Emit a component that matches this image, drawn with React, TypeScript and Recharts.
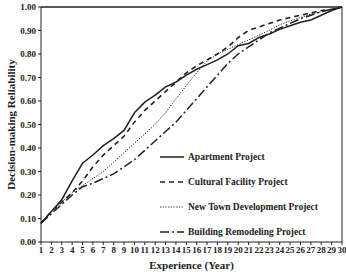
import {
  LineChart,
  Line,
  XAxis,
  YAxis,
  ReferenceLine
} from 'recharts';

const years = Array.from({ length: 30 }, (_, i) => i + 1);

const apartment = [
  0.08, 0.13, 0.18, 0.26, 0.335, 0.37, 0.41, 0.44, 0.475, 0.55,
  0.595, 0.625, 0.66, 0.68, 0.71, 0.735, 0.755, 0.775, 0.8, 0.835,
  0.845, 0.87, 0.885, 0.905, 0.92, 0.935, 0.945, 0.965, 0.985, 1.0
];
const cultural = [
  0.08, 0.13, 0.17, 0.21, 0.26, 0.32, 0.37, 0.41, 0.45, 0.51,
  0.56, 0.6, 0.64, 0.68, 0.72, 0.75, 0.775, 0.8, 0.83, 0.87,
  0.9, 0.915, 0.93, 0.945, 0.955, 0.965, 0.975, 0.985, 0.99, 1.0
];
const newTown = [
  0.08, 0.13, 0.17, 0.21, 0.24, 0.27, 0.3, 0.34, 0.38, 0.42,
  0.46, 0.5, 0.55, 0.61, 0.665, 0.72, 0.77, 0.8, 0.82, 0.84,
  0.86, 0.88, 0.9, 0.925, 0.94, 0.955, 0.97, 0.98, 0.99, 1.0
];
const remodeling = [
  0.08, 0.12, 0.16, 0.2, 0.235, 0.25, 0.27, 0.29, 0.32, 0.35,
  0.39, 0.43, 0.47, 0.51, 0.56, 0.61, 0.66, 0.71, 0.76, 0.8,
  0.83, 0.86, 0.89, 0.91, 0.93, 0.95, 0.965, 0.98, 0.99, 1.0
];

const yTicks = [0, 0.1, 0.2, 0.3, 0.4, 0.5, 0.6, 0.7, 0.8, 0.9, 1.0];

const series = [
  { key: 'apt', name: 'Apartment Project', dash: undefined, width: 1.5 },
  { key: 'cul', name: 'Cultural Facility Project', dash: '5 4', width: 1.6 },
  { key: 'nt', name: 'New Town Development Project', dash: '1.2 1.5', width: 1 },
  { key: 'br', name: 'Building Remodeling Project', dash: '9 3 2 3', width: 1.5 }
];

const data = years.map((year, i) => ({
  year,
  apt: apartment[i],
  cul: cultural[i],
  nt: newTown[i],
  br: remodeling[i]
}));

const font = 'Liberation Serif, Times New Roman, serif';
const tickStyle = { fontFamily: font, fontWeight: 700, fontSize: 9, fill: '#222' };

function LegendBox() {
  return (
    <div
      style={{
        position: 'absolute',
        left: 158,
        top: 144,
        fontFamily: font,
        fontWeight: 700,
        fontSize: 9.5,
        color: '#222'
      }}
    >
      {series.map((s) => (
        <div key={s.key} style={{ display: 'flex', alignItems: 'center', height: 25 }}>
          <svg width={30} height={6}>
            <line x1={2} y1={3} x2={26} y2={3} stroke="#222" strokeWidth={s.width} strokeDasharray={s.dash} />
          </svg>
          <span>{s.name}</span>
        </div>
      ))}
    </div>
  );
}

export default function App() {
  return (
    <div style={{ position: 'absolute', left: 0, top: 0, width: 346, height: 272, background: '#fff', overflow: 'hidden' }}>
      <LineChart width={346} height={272} data={data} margin={{ top: 7, right: 4, bottom: 0, left: 0 }}>
        <XAxis
          dataKey="year"
          type="number"
          domain={[1, 30]}
          ticks={years}
          interval={0}
          tick={tickStyle}
          tickSize={3}
          tickMargin={2}
          height={30}
          stroke="#222"
          label={{ value: 'Experience (Year)', position: 'insideBottom', offset: 3, style: { fontFamily: font, fontWeight: 700, fontSize: 11, fill: '#222' } }}
        />
        <YAxis
          domain={[0, 1]}
          ticks={yTicks}
          tickFormatter={(v) => v.toFixed(2)}
          tick={tickStyle}
          tickSize={3}
          tickMargin={2}
          width={41}
          stroke="#222"
          label={{ value: 'Decision-making Reliability', angle: -90, position: 'insideLeft', offset: 11, style: { textAnchor: 'middle', fontFamily: font, fontWeight: 700, fontSize: 11, fill: '#222' } }}
        />
        <ReferenceLine y={1} stroke="#222" strokeWidth={1.5} />
        <ReferenceLine x={30} stroke="#222" strokeWidth={1} />
        {series.map((s) => (
          <Line
            key={s.key}
            dataKey={s.key}
            name={s.name}
            stroke="#222"
            strokeWidth={s.width}
            strokeDasharray={s.dash}
            dot={false}
            isAnimationActive={false}
          />
        ))}
      </LineChart>
      <LegendBox />
    </div>
  );
}
